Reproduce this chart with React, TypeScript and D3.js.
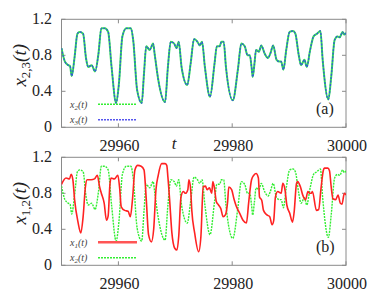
import React from "react";
import * as d3 from "d3";

// time axis
const tDomain = [29950, 30000];
const xTickValues = [29960, 29980, 30000];
const yTickValues = [0, 0.4, 0.8, 1.2];

// x2(t) = x3(t) (synchronised pair)
const x2Time = [
  29950.0, 29950.6, 29951.2, 29951.5, 29951.8, 29952.3, 29952.8, 29953.2, 29953.8, 29954.3,
  29954.7, 29955.3, 29955.9, 29956.5, 29957.0, 29957.6, 29958.2, 29958.8, 29959.6, 29960.1,
  29960.7, 29961.4, 29962.2, 29962.6, 29963.3, 29964.1, 29964.5, 29964.9, 29965.5, 29966.1,
  29966.4, 29967.0, 29968.2, 29968.7, 29969.2, 29969.8, 29970.2, 29970.6, 29971.1, 29972.1,
  29972.7, 29973.3, 29973.9, 29974.3, 29974.7, 29975.2, 29976.1, 29976.9, 29977.3, 29977.8,
  29978.1, 29978.5, 29978.9, 29980.1, 29981.0, 29981.6, 29982.2, 29982.7, 29983.1, 29983.4,
  29983.6, 29983.9, 29984.2, 29984.7, 29985.1, 29985.7, 29986.3, 29986.7, 29987.2, 29987.8,
  29988.3, 29988.6, 29989.0, 29989.5, 29990.1, 29990.7, 29991.1, 29991.7, 29992.1, 29992.7,
  29993.1, 29993.7, 29994.3, 29994.9, 29995.5, 29995.9, 29996.9, 29997.4, 29998.0, 29998.5,
  29998.9, 29999.4, 29999.7, 30000.0,
];
const x2Values = [
  0.88, 0.73, 0.69, 0.68, 0.57, 0.78, 1.04, 1.06, 1.04, 0.77,
  0.67, 0.69, 0.62, 0.82, 1.10, 1.10, 1.06, 0.67, 0.27, 0.49,
  1.01, 1.10, 1.10, 0.97, 0.41, 0.27, 0.60, 0.90, 0.86, 0.93,
  0.80, 0.53, 0.28, 0.67, 0.95, 0.93, 0.88, 0.95, 0.67, 0.47,
  0.71, 0.98, 0.95, 0.91, 0.95, 0.67, 0.34, 0.71, 0.90, 0.90,
  0.95, 0.95, 0.67, 0.30, 0.64, 0.93, 0.90, 0.80, 0.80, 0.67,
  0.56, 0.70, 0.86, 0.84, 0.91, 0.82, 0.77, 0.82, 0.91, 0.75,
  0.73, 0.73, 0.64, 0.86, 1.06, 1.07, 1.04, 0.80, 0.69, 0.75,
  0.67, 0.86, 1.01, 1.04, 1.07, 0.75, 0.31, 0.56, 0.97, 1.01,
  1.00, 1.06, 1.03, 1.05,
];

// x1(t)
const x1Time = [
  29950.0, 29950.8, 29951.4, 29951.7, 29952.0, 29952.3, 29952.9, 29953.4, 29953.8, 29954.2,
  29954.5, 29955.2, 29955.8, 29956.3, 29956.7, 29957.0, 29957.5, 29957.9, 29958.2, 29958.5,
  29958.7, 29959.3, 29959.9, 29960.2, 29960.5, 29961.1, 29961.7, 29962.1, 29962.5, 29962.9,
  29963.4, 29964.0, 29964.5, 29964.9, 29965.3, 29965.8, 29966.2, 29966.6, 29967.0, 29967.6,
  29968.2, 29968.5, 29968.7, 29969.0, 29969.4, 29969.9, 29970.3, 29970.6, 29971.0, 29971.4,
  29971.8, 29972.2, 29972.4, 29972.7, 29972.9, 29973.4, 29974.1, 29974.5, 29974.9, 29975.3,
  29975.6, 29976.0, 29976.4, 29976.6, 29976.9, 29977.2, 29977.6, 29978.0, 29978.4, 29978.8,
  29979.2, 29979.4, 29979.9, 29980.3, 29980.7, 29981.3, 29981.9, 29982.5, 29982.9, 29983.4,
  29983.8, 29984.2, 29984.6, 29984.8, 29985.2, 29985.5, 29986.1, 29986.6, 29987.0, 29987.3,
  29987.6, 29988.0, 29988.6, 29988.9, 29989.3, 29989.6, 29990.1, 29990.6, 29990.9, 29991.3,
  29991.5, 29992.0, 29992.4, 29992.9, 29993.3, 29993.6, 29993.9, 29994.1, 29994.8, 29995.2,
  29995.6, 29996.0, 29996.2, 29996.8, 29997.1, 29997.4, 29997.7, 29998.2, 29998.6, 29999.0,
  29999.3, 29999.7, 30000.0,
];
const x1Values = [
  0.90, 0.97, 0.96, 1.01, 0.95, 0.73, 0.48, 0.36, 0.54, 0.87,
  0.95, 0.95, 0.96, 1.00, 0.87, 0.80, 0.69, 0.50, 0.55, 0.89,
  0.97, 0.96, 1.00, 0.87, 0.65, 0.61, 0.60, 0.54, 0.75, 1.06,
  1.11, 1.10, 1.06, 0.73, 0.34, 0.26, 0.40, 0.84, 1.00, 1.13,
  1.13, 1.11, 0.98, 0.73, 0.36, 0.19, 0.17, 0.32, 0.76, 0.82,
  0.80, 0.84, 0.95, 0.84, 0.61, 0.36, 0.15, 0.32, 0.87, 0.88,
  0.84, 0.86, 0.80, 0.93, 0.85, 0.71, 0.67, 0.63, 0.54, 0.56,
  0.71, 0.87, 0.84, 0.74, 0.66, 0.58, 0.50, 0.47, 0.70, 0.95,
  1.00, 1.02, 0.97, 0.76, 0.72, 0.61, 0.56, 0.54, 0.45, 0.50,
  0.76, 0.82, 0.80, 0.91, 0.83, 0.67, 0.58, 0.48, 0.60, 0.91,
  0.93, 0.87, 0.78, 0.73, 0.82, 0.80, 0.80, 0.82, 0.61, 0.62,
  0.85, 1.05, 1.08, 1.08, 1.05, 0.87, 0.74, 0.73, 0.78, 0.69,
  0.68, 0.80, 0.78,
];

const x2Series = x2Time.map((t, i) => ({ t, v: x2Values[i] }));
const x1Series = x1Time.map((t, i) => ({ t, v: x1Values[i] }));

const W = 374;
const H = 299;
const LEFT = 61.5;
const RIGHT = 346;
const serif = "'Times New Roman', 'Liberation Serif', Times, serif";
const frameColor = "#8a8a8a";

type Line = { data: { t: number; v: number }[]; color: string; width: number; dash?: string };
type Legend = { sub: string; color: string; width: number; dash?: string };

function Panel(props: {
  top: number;
  bottom: number;
  lines: Line[];
  legend: Legend[];
  ySub: string;
  tag: string;
  showT: boolean;
}) {
  const { top, bottom, lines, legend, ySub, tag, showT } = props;
  const x = d3.scaleLinear().domain(tDomain).range([LEFT, RIGHT]);
  const y = d3.scaleLinear().domain([0, 1.2]).range([bottom, top]);
  const line = d3
    .line<{ t: number; v: number }>()
    .x((d) => x(d.t))
    .y((d) => y(d.v))
    .curve(d3.curveMonotoneX);

  return (
    <g style={{ fontFamily: serif }}>
      <defs>
        <clipPath id={"clip" + tag}>
          <rect x={LEFT} y={top} width={RIGHT - LEFT} height={bottom - top} />
        </clipPath>
      </defs>
      {/* frame */}
      <rect x={LEFT} y={top} width={RIGHT - LEFT} height={bottom - top} fill="none" stroke={frameColor} strokeWidth={1} />
      {xTickValues.map((t) => (
        <g key={t}>
          <line x1={x(t)} x2={x(t)} y1={bottom} y2={bottom - 4} stroke={frameColor} />
          <line x1={x(t)} x2={x(t)} y1={top} y2={top + 4} stroke={frameColor} />
          <text x={x(t) + 1} y={bottom + 24} textAnchor="middle" fontSize={16} fill="#222">
            {t}
          </text>
        </g>
      ))}
      {yTickValues.map((v) => (
        <g key={v}>
          <line x1={LEFT} x2={LEFT + 4} y1={y(v)} y2={y(v)} stroke={frameColor} />
          <line x1={RIGHT} x2={RIGHT - 4} y1={y(v)} y2={y(v)} stroke={frameColor} />
          <text x={52} y={y(v) + 5} textAnchor="end" fontSize={16} fill="#222">
            {v}
          </text>
        </g>
      ))}
      {/* series */}
      <g clipPath={`url(#clip${tag})`}>
        {lines.map((l, i) => (
          <path
            key={i}
            d={line(l.data) ?? ""}
            fill="none"
            stroke={l.color}
            strokeWidth={l.width}
            strokeDasharray={l.dash}
            strokeLinejoin="round"
          />
        ))}
      </g>
      {/* legend */}
      {legend.map((e, i) => {
        const ly = bottom - 23 + i * 15.5;
        return (
          <g key={i}>
            <text x={70} y={ly + 3.5} fontSize={10} fontStyle="italic" fill="#444">
              x
              <tspan fontSize={7} dy={2}>{e.sub}</tspan>
              <tspan dy={-2}>(t)</tspan>
            </text>
            <line x1={98} x2={137} y1={ly} y2={ly} stroke={e.color} strokeWidth={e.width} strokeDasharray={e.dash} />
          </g>
        );
      })}
      <text x={316} y={bottom - 13} fontSize={16} fill="#222">
        ({tag})
      </text>
      {/* y label */}
      <text
        transform={`translate(26,${(top + bottom) / 2 - 8}) rotate(-90)`}
        textAnchor="middle"
        fontSize={19}
        fill="#222"
      >
        <tspan fontStyle="italic">x</tspan>
        <tspan fontSize={13} dy={4}>{ySub}</tspan>
        <tspan fontStyle="italic" dy={-4}>(t)</tspan>
      </text>
      {showT && (
        <text x={174} y={bottom + 22} textAnchor="middle" fontSize={17} fontStyle="italic" fill="#222">
          t
        </text>
      )}
    </g>
  );
}

export default function App() {
  return (
    <svg width={W} height={H} style={{ position: "absolute", left: 0, top: 0, background: "#fff" }}>
      <Panel
        top={19.3}
        bottom={127.3}
        ySub="2,3"
        tag="a"
        showT={true}
        lines={[
          { data: x2Series, color: "#33dd55", width: 2 },
          { data: x2Series, color: "#3355dd", width: 1.3, dash: "2,1.5" },
        ]}
        legend={[
          { sub: "2", color: "#33ee33", width: 1.5, dash: "2,1" },
          { sub: "3", color: "#5555ee", width: 1.5, dash: "2,1" },
        ]}
      />
      <Panel
        top={157.3}
        bottom={265.3}
        ySub="1,2"
        tag="b"
        showT={false}
        lines={[
          { data: x2Series, color: "#33ee33", width: 1.4, dash: "2,1" },
          { data: x1Series, color: "#ff2222", width: 1.6 },
        ]}
        legend={[
          { sub: "1", color: "#ff5555", width: 2.5 },
          { sub: "2", color: "#33ee33", width: 1.5, dash: "2,1" },
        ]}
      />
    </svg>
  );
}
